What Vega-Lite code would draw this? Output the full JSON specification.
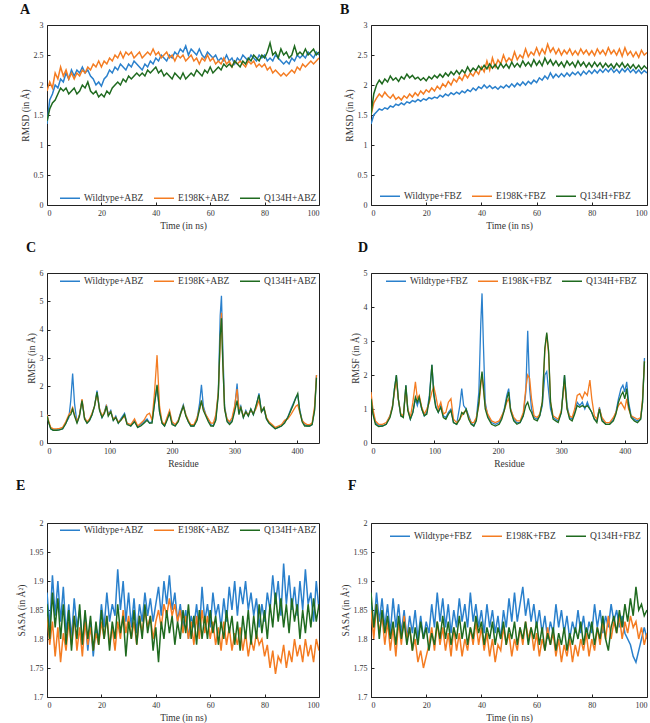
{
"$schema":"https://vega.github.io/schema/vega-lite/v6.json",
"padding":{"left":15,"top":2,"right":5,"bottom":1},
"config":{
"view":{"stroke":"#222","strokeWidth":1},
"axis":{"grid":false,"domain":false,"tickSize":-3,"tickColor":"#222","labelPadding":7,"labelFont":"Liberation Serif","labelFontSize":8,"labelColor":"#333","titleFont":"Liberation Serif","titleFontSize":9.5,"titleFontWeight":"normal","titleColor":"#333","titlePadding":3},
"title":{"font":"Liberation Serif","fontSize":14,"fontWeight":"bold","anchor":"start","frame":"bounds","color":"#111"},
"legend":{"orient":"none","direction":"horizontal","symbolType":"stroke","symbolStrokeWidth":2,"symbolSize":400,"labelFont":"Liberation Serif","labelFontSize":9.5,"labelColor":"#333","columnPadding":7,"labelOffset":3},
"line":{"strokeWidth":1.5}
},
"datasets":{
"a":[{"x":0,"W":1.35,"E":1.9,"Q":1.4},{"x":1,"W":1.75,"E":2.05,"Q":1.6},{"x":2,"W":1.85,"E":1.95,"Q":1.7},{"x":3,"W":2.0,"E":2.2,"Q":1.75},{"x":4,"W":1.95,"E":2.1,"Q":1.85},{"x":5,"W":2.1,"E":2.3,"Q":1.95},{"x":6,"W":2.05,"E":2.15,"Q":1.9},{"x":7,"W":2.2,"E":2.25,"Q":1.95},{"x":8,"W":2.1,"E":2.1,"Q":1.85},{"x":9,"W":2.25,"E":2.2,"Q":1.9},{"x":10,"W":2.15,"E":2.1,"Q":1.95},{"x":11,"W":2.25,"E":2.2,"Q":1.85},{"x":12,"W":2.2,"E":2.15,"Q":1.9},{"x":13,"W":2.3,"E":2.25,"Q":2.0},{"x":14,"W":2.2,"E":2.2,"Q":1.95},{"x":15,"W":2.25,"E":2.3,"Q":2.05},{"x":16,"W":2.15,"E":2.25,"Q":1.9},{"x":17,"W":2.1,"E":2.35,"Q":1.85},{"x":18,"W":2.0,"E":2.3,"Q":1.9},{"x":19,"W":2.05,"E":2.4,"Q":1.8},{"x":20,"W":1.98,"E":2.3,"Q":1.85},{"x":21,"W":2.1,"E":2.4,"Q":1.8},{"x":22,"W":2.15,"E":2.35,"Q":1.9},{"x":23,"W":2.25,"E":2.45,"Q":1.85},{"x":24,"W":2.2,"E":2.4,"Q":1.95},{"x":25,"W":2.3,"E":2.5,"Q":2.0},{"x":26,"W":2.25,"E":2.45,"Q":2.05},{"x":27,"W":2.35,"E":2.55,"Q":2.0},{"x":28,"W":2.3,"E":2.45,"Q":2.1},{"x":29,"W":2.25,"E":2.55,"Q":2.05},{"x":30,"W":2.35,"E":2.5,"Q":2.15},{"x":31,"W":2.3,"E":2.55,"Q":2.1},{"x":32,"W":2.4,"E":2.45,"Q":2.15},{"x":33,"W":2.35,"E":2.5,"Q":2.2},{"x":34,"W":2.3,"E":2.55,"Q":2.15},{"x":35,"W":2.25,"E":2.45,"Q":2.2},{"x":36,"W":2.35,"E":2.5,"Q":2.15},{"x":37,"W":2.3,"E":2.55,"Q":2.25},{"x":38,"W":2.4,"E":2.5,"Q":2.2},{"x":39,"W":2.35,"E":2.6,"Q":2.25},{"x":40,"W":2.45,"E":2.5,"Q":2.3},{"x":41,"W":2.4,"E":2.55,"Q":2.2},{"x":42,"W":2.5,"E":2.45,"Q":2.25},{"x":43,"W":2.45,"E":2.5,"Q":2.15},{"x":44,"W":2.4,"E":2.55,"Q":2.2},{"x":45,"W":2.5,"E":2.45,"Q":2.15},{"x":46,"W":2.45,"E":2.5,"Q":2.1},{"x":47,"W":2.55,"E":2.4,"Q":2.2},{"x":48,"W":2.5,"E":2.5,"Q":2.15},{"x":49,"W":2.6,"E":2.45,"Q":2.1},{"x":50,"W":2.55,"E":2.5,"Q":2.2},{"x":51,"W":2.65,"E":2.4,"Q":2.1},{"x":52,"W":2.5,"E":2.45,"Q":2.15},{"x":53,"W":2.6,"E":2.5,"Q":2.2},{"x":54,"W":2.55,"E":2.4,"Q":2.15},{"x":55,"W":2.5,"E":2.45,"Q":2.25},{"x":56,"W":2.6,"E":2.35,"Q":2.2},{"x":57,"W":2.5,"E":2.45,"Q":2.15},{"x":58,"W":2.45,"E":2.4,"Q":2.25},{"x":59,"W":2.55,"E":2.5,"Q":2.2},{"x":60,"W":2.5,"E":2.4,"Q":2.3},{"x":61,"W":2.45,"E":2.45,"Q":2.2},{"x":62,"W":2.5,"E":2.35,"Q":2.25},{"x":63,"W":2.4,"E":2.4,"Q":2.3},{"x":64,"W":2.45,"E":2.35,"Q":2.25},{"x":65,"W":2.4,"E":2.45,"Q":2.35},{"x":66,"W":2.5,"E":2.35,"Q":2.3},{"x":67,"W":2.4,"E":2.4,"Q":2.35},{"x":68,"W":2.45,"E":2.3,"Q":2.3},{"x":69,"W":2.35,"E":2.4,"Q":2.4},{"x":70,"W":2.45,"E":2.35,"Q":2.35},{"x":71,"W":2.4,"E":2.4,"Q":2.3},{"x":72,"W":2.5,"E":2.35,"Q":2.4},{"x":73,"W":2.45,"E":2.3,"Q":2.35},{"x":74,"W":2.4,"E":2.4,"Q":2.45},{"x":75,"W":2.5,"E":2.35,"Q":2.4},{"x":76,"W":2.45,"E":2.4,"Q":2.5},{"x":77,"W":2.4,"E":2.3,"Q":2.45},{"x":78,"W":2.5,"E":2.35,"Q":2.4},{"x":79,"W":2.45,"E":2.3,"Q":2.5},{"x":80,"W":2.5,"E":2.35,"Q":2.45},{"x":81,"W":2.4,"E":2.25,"Q":2.55},{"x":82,"W":2.45,"E":2.3,"Q":2.7},{"x":83,"W":2.4,"E":2.2,"Q":2.5},{"x":84,"W":2.5,"E":2.25,"Q":2.55},{"x":85,"W":2.45,"E":2.2,"Q":2.45},{"x":86,"W":2.4,"E":2.15,"Q":2.6},{"x":87,"W":2.35,"E":2.2,"Q":2.5},{"x":88,"W":2.4,"E":2.15,"Q":2.55},{"x":89,"W":2.35,"E":2.2,"Q":2.45},{"x":90,"W":2.45,"E":2.25,"Q":2.5},{"x":91,"W":2.4,"E":2.2,"Q":2.65},{"x":92,"W":2.5,"E":2.3,"Q":2.5},{"x":93,"W":2.45,"E":2.25,"Q":2.55},{"x":94,"W":2.5,"E":2.35,"Q":2.5},{"x":95,"W":2.45,"E":2.3,"Q":2.6},{"x":96,"W":2.55,"E":2.35,"Q":2.5},{"x":97,"W":2.5,"E":2.4,"Q":2.55},{"x":98,"W":2.45,"E":2.35,"Q":2.6},{"x":99,"W":2.55,"E":2.4,"Q":2.5},{"x":100,"W":2.5,"E":2.45,"Q":2.55}],
"b":[{"x":0,"W":1.35,"E":1.5,"Q":1.5},{"x":1,"W":1.5,"E":1.7,"Q":1.85},{"x":2,"W":1.55,"E":1.78,"Q":2.0},{"x":3,"W":1.6,"E":1.85,"Q":2.08},{"x":4,"W":1.58,"E":1.8,"Q":2.02},{"x":5,"W":1.62,"E":1.88,"Q":2.1},{"x":6,"W":1.6,"E":1.82,"Q":2.05},{"x":7,"W":1.65,"E":1.78,"Q":2.15},{"x":8,"W":1.63,"E":1.84,"Q":2.08},{"x":9,"W":1.68,"E":1.76,"Q":2.12},{"x":10,"W":1.66,"E":1.8,"Q":2.06},{"x":11,"W":1.7,"E":1.75,"Q":2.14},{"x":12,"W":1.67,"E":1.82,"Q":2.1},{"x":13,"W":1.72,"E":1.78,"Q":2.18},{"x":14,"W":1.7,"E":1.85,"Q":2.12},{"x":15,"W":1.74,"E":1.8,"Q":2.16},{"x":16,"W":1.72,"E":1.87,"Q":2.1},{"x":17,"W":1.76,"E":1.82,"Q":2.13},{"x":18,"W":1.73,"E":1.9,"Q":2.08},{"x":19,"W":1.77,"E":1.85,"Q":2.12},{"x":20,"W":1.75,"E":1.92,"Q":2.07},{"x":21,"W":1.79,"E":1.88,"Q":2.14},{"x":22,"W":1.77,"E":1.95,"Q":2.1},{"x":23,"W":1.8,"E":1.9,"Q":2.16},{"x":24,"W":1.78,"E":1.98,"Q":2.12},{"x":25,"W":1.83,"E":1.93,"Q":2.18},{"x":26,"W":1.8,"E":2.02,"Q":2.13},{"x":27,"W":1.85,"E":1.97,"Q":2.2},{"x":28,"W":1.82,"E":2.06,"Q":2.15},{"x":29,"W":1.87,"E":2.0,"Q":2.22},{"x":30,"W":1.84,"E":2.1,"Q":2.17},{"x":31,"W":1.88,"E":2.05,"Q":2.24},{"x":32,"W":1.85,"E":2.14,"Q":2.18},{"x":33,"W":1.9,"E":2.08,"Q":2.25},{"x":34,"W":1.87,"E":2.18,"Q":2.2},{"x":35,"W":1.92,"E":2.12,"Q":2.3},{"x":36,"W":1.89,"E":2.2,"Q":2.22},{"x":37,"W":1.95,"E":2.15,"Q":2.28},{"x":38,"W":1.91,"E":2.24,"Q":2.24},{"x":39,"W":1.97,"E":2.18,"Q":2.32},{"x":40,"W":1.94,"E":2.3,"Q":2.26},{"x":41,"W":2.0,"E":2.22,"Q":2.33},{"x":42,"W":1.95,"E":2.4,"Q":2.27},{"x":43,"W":1.99,"E":2.25,"Q":2.35},{"x":44,"W":1.94,"E":2.45,"Q":2.28},{"x":45,"W":1.97,"E":2.3,"Q":2.34},{"x":46,"W":1.93,"E":2.42,"Q":2.27},{"x":47,"W":1.98,"E":2.35,"Q":2.36},{"x":48,"W":1.95,"E":2.5,"Q":2.29},{"x":49,"W":2.0,"E":2.38,"Q":2.35},{"x":50,"W":1.96,"E":2.45,"Q":2.28},{"x":51,"W":2.02,"E":2.4,"Q":2.38},{"x":52,"W":1.97,"E":2.55,"Q":2.3},{"x":53,"W":2.03,"E":2.42,"Q":2.36},{"x":54,"W":1.99,"E":2.5,"Q":2.3},{"x":55,"W":2.05,"E":2.45,"Q":2.4},{"x":56,"W":2.0,"E":2.6,"Q":2.32},{"x":57,"W":2.06,"E":2.47,"Q":2.38},{"x":58,"W":2.02,"E":2.55,"Q":2.31},{"x":59,"W":2.08,"E":2.5,"Q":2.42},{"x":60,"W":2.04,"E":2.62,"Q":2.33},{"x":61,"W":2.12,"E":2.5,"Q":2.4},{"x":62,"W":2.08,"E":2.6,"Q":2.32},{"x":63,"W":2.15,"E":2.52,"Q":2.45},{"x":64,"W":2.1,"E":2.68,"Q":2.35},{"x":65,"W":2.2,"E":2.55,"Q":2.42},{"x":66,"W":2.12,"E":2.62,"Q":2.33},{"x":67,"W":2.18,"E":2.52,"Q":2.4},{"x":68,"W":2.13,"E":2.6,"Q":2.32},{"x":69,"W":2.19,"E":2.5,"Q":2.38},{"x":70,"W":2.14,"E":2.58,"Q":2.3},{"x":71,"W":2.2,"E":2.52,"Q":2.4},{"x":72,"W":2.15,"E":2.6,"Q":2.33},{"x":73,"W":2.21,"E":2.5,"Q":2.38},{"x":74,"W":2.17,"E":2.57,"Q":2.3},{"x":75,"W":2.22,"E":2.5,"Q":2.4},{"x":76,"W":2.16,"E":2.6,"Q":2.32},{"x":77,"W":2.23,"E":2.52,"Q":2.38},{"x":78,"W":2.18,"E":2.58,"Q":2.3},{"x":79,"W":2.24,"E":2.5,"Q":2.37},{"x":80,"W":2.19,"E":2.57,"Q":2.3},{"x":81,"W":2.25,"E":2.49,"Q":2.38},{"x":82,"W":2.2,"E":2.6,"Q":2.31},{"x":83,"W":2.26,"E":2.52,"Q":2.37},{"x":84,"W":2.21,"E":2.58,"Q":2.29},{"x":85,"W":2.27,"E":2.5,"Q":2.36},{"x":86,"W":2.22,"E":2.62,"Q":2.3},{"x":87,"W":2.28,"E":2.52,"Q":2.35},{"x":88,"W":2.21,"E":2.58,"Q":2.28},{"x":89,"W":2.26,"E":2.5,"Q":2.36},{"x":90,"W":2.2,"E":2.6,"Q":2.3},{"x":91,"W":2.27,"E":2.48,"Q":2.37},{"x":92,"W":2.22,"E":2.62,"Q":2.29},{"x":93,"W":2.28,"E":2.5,"Q":2.35},{"x":94,"W":2.21,"E":2.56,"Q":2.28},{"x":95,"W":2.26,"E":2.47,"Q":2.34},{"x":96,"W":2.2,"E":2.55,"Q":2.27},{"x":97,"W":2.25,"E":2.46,"Q":2.33},{"x":98,"W":2.19,"E":2.58,"Q":2.26},{"x":99,"W":2.24,"E":2.5,"Q":2.32},{"x":100,"W":2.2,"E":2.54,"Q":2.27}],
"c":[{"x":0,"W":1.0,"E":1.0,"Q":0.95},{"x":3,"W":0.7,"E":0.75,"Q":0.7},{"x":6,"W":0.5,"E":0.55,"Q":0.5},{"x":10,"W":0.45,"E":0.5,"Q":0.45},{"x":15,"W":0.45,"E":0.5,"Q":0.45},{"x":20,"W":0.47,"E":0.52,"Q":0.46},{"x":25,"W":0.5,"E":0.55,"Q":0.5},{"x":30,"W":0.7,"E":0.75,"Q":0.68},{"x":35,"W":0.9,"E":1.0,"Q":0.95},{"x":38,"W":1.5,"E":1.1,"Q":1.0},{"x":41,"W":2.45,"E":1.25,"Q":1.2},{"x":44,"W":1.4,"E":1.0,"Q":0.95},{"x":48,"W":0.7,"E":0.75,"Q":0.7},{"x":52,"W":1.0,"E":1.0,"Q":0.95},{"x":56,"W":1.5,"E":1.55,"Q":1.5},{"x":60,"W":0.9,"E":0.9,"Q":0.85},{"x":64,"W":0.7,"E":0.75,"Q":0.7},{"x":68,"W":0.8,"E":0.85,"Q":0.8},{"x":72,"W":1.0,"E":1.05,"Q":1.0},{"x":76,"W":1.3,"E":1.3,"Q":1.3},{"x":80,"W":1.85,"E":1.75,"Q":1.8},{"x":84,"W":1.2,"E":1.2,"Q":1.15},{"x":88,"W":0.9,"E":0.95,"Q":0.9},{"x":92,"W":1.1,"E":1.1,"Q":1.05},{"x":95,"W":1.35,"E":1.3,"Q":1.3},{"x":98,"W":1.0,"E":1.0,"Q":0.95},{"x":102,"W":1.15,"E":1.1,"Q":1.1},{"x":106,"W":0.8,"E":0.85,"Q":0.8},{"x":110,"W":0.95,"E":0.9,"Q":0.9},{"x":114,"W":0.7,"E":0.75,"Q":0.7},{"x":118,"W":0.85,"E":0.8,"Q":0.8},{"x":124,"W":1.05,"E":0.95,"Q":1.0},{"x":128,"W":0.7,"E":0.7,"Q":0.65},{"x":134,"W":0.6,"E":0.65,"Q":0.6},{"x":140,"W":0.8,"E":0.85,"Q":0.75},{"x":145,"W":0.55,"E":0.6,"Q":0.55},{"x":150,"W":0.65,"E":0.7,"Q":0.6},{"x":155,"W":0.75,"E":0.8,"Q":0.7},{"x":160,"W":0.85,"E":1.0,"Q":0.8},{"x":164,"W":0.7,"E":1.05,"Q":0.7},{"x":168,"W":0.75,"E":0.8,"Q":0.7},{"x":172,"W":1.4,"E":1.8,"Q":1.4},{"x":176,"W":2.0,"E":3.1,"Q":2.05},{"x":180,"W":1.1,"E":1.3,"Q":1.1},{"x":184,"W":0.7,"E":0.75,"Q":0.7},{"x":188,"W":0.6,"E":0.65,"Q":0.6},{"x":192,"W":0.85,"E":0.9,"Q":0.8},{"x":196,"W":1.1,"E":1.15,"Q":1.05},{"x":200,"W":0.7,"E":0.75,"Q":0.65},{"x":205,"W":0.6,"E":0.65,"Q":0.6},{"x":210,"W":0.8,"E":0.8,"Q":0.75},{"x":214,"W":1.1,"E":1.05,"Q":1.05},{"x":218,"W":1.35,"E":1.3,"Q":1.3},{"x":222,"W":1.0,"E":1.0,"Q":0.95},{"x":226,"W":0.75,"E":0.8,"Q":0.75},{"x":230,"W":0.6,"E":0.65,"Q":0.6},{"x":235,"W":0.6,"E":0.65,"Q":0.6},{"x":240,"W":0.85,"E":0.9,"Q":0.8},{"x":244,"W":1.4,"E":1.2,"Q":1.2},{"x":247,"W":2.05,"E":1.45,"Q":1.5},{"x":250,"W":1.3,"E":1.2,"Q":1.15},{"x":254,"W":1.0,"E":1.0,"Q":0.95},{"x":258,"W":0.8,"E":0.85,"Q":0.75},{"x":262,"W":0.65,"E":0.7,"Q":0.6},{"x":266,"W":0.6,"E":0.7,"Q":0.6},{"x":270,"W":0.85,"E":1.0,"Q":0.8},{"x":274,"W":1.8,"E":1.8,"Q":1.7},{"x":277,"W":4.5,"E":3.5,"Q":3.8},{"x":279,"W":5.2,"E":4.6,"Q":4.4},{"x":281,"W":3.5,"E":3.0,"Q":2.9},{"x":284,"W":1.3,"E":1.2,"Q":1.2},{"x":288,"W":0.8,"E":0.85,"Q":0.75},{"x":292,"W":0.7,"E":0.75,"Q":0.65},{"x":296,"W":0.8,"E":0.9,"Q":0.75},{"x":300,"W":1.2,"E":1.3,"Q":1.1},{"x":304,"W":2.1,"E":1.9,"Q":1.5},{"x":307,"W":1.1,"E":1.2,"Q":1.0},{"x":310,"W":1.3,"E":1.25,"Q":1.25},{"x":314,"W":0.9,"E":0.95,"Q":0.9},{"x":318,"W":1.15,"E":1.1,"Q":1.1},{"x":322,"W":0.95,"E":1.0,"Q":0.95},{"x":326,"W":1.2,"E":1.15,"Q":1.2},{"x":330,"W":1.0,"E":1.05,"Q":1.0},{"x":334,"W":1.25,"E":1.2,"Q":1.3},{"x":339,"W":1.75,"E":1.5,"Q":1.7},{"x":343,"W":1.1,"E":1.1,"Q":1.1},{"x":347,"W":1.2,"E":1.25,"Q":1.25},{"x":351,"W":0.85,"E":0.9,"Q":0.85},{"x":355,"W":0.7,"E":0.75,"Q":0.7},{"x":360,"W":0.6,"E":0.65,"Q":0.6},{"x":365,"W":0.5,"E":0.55,"Q":0.5},{"x":370,"W":0.55,"E":0.6,"Q":0.55},{"x":375,"W":0.6,"E":0.65,"Q":0.6},{"x":380,"W":0.75,"E":0.8,"Q":0.7},{"x":385,"W":0.9,"E":0.85,"Q":0.9},{"x":390,"W":1.2,"E":1.0,"Q":1.15},{"x":394,"W":1.4,"E":1.15,"Q":1.35},{"x":398,"W":1.6,"E":1.3,"Q":1.6},{"x":401,"W":1.7,"E":1.35,"Q":1.75},{"x":404,"W":1.2,"E":1.1,"Q":1.15},{"x":408,"W":0.8,"E":0.8,"Q":0.75},{"x":412,"W":0.65,"E":0.7,"Q":0.6},{"x":416,"W":0.6,"E":0.65,"Q":0.6},{"x":420,"W":0.6,"E":0.65,"Q":0.6},{"x":424,"W":0.65,"E":0.7,"Q":0.65},{"x":428,"W":1.2,"E":1.3,"Q":1.15},{"x":431,"W":2.4,"E":2.4,"Q":2.3}],
"d":[{"x":0,"W":1.4,"E":1.5,"Q":1.3},{"x":3,"W":0.9,"E":1.0,"Q":0.85},{"x":7,"W":0.6,"E":0.65,"Q":0.55},{"x":12,"W":0.5,"E":0.55,"Q":0.48},{"x":18,"W":0.5,"E":0.55,"Q":0.5},{"x":24,"W":0.55,"E":0.6,"Q":0.55},{"x":30,"W":0.8,"E":0.8,"Q":0.75},{"x":34,"W":1.1,"E":1.1,"Q":1.05},{"x":37,"W":1.6,"E":1.5,"Q":1.6},{"x":40,"W":2.0,"E":1.85,"Q":2.0},{"x":43,"W":1.3,"E":1.3,"Q":1.3},{"x":47,"W":0.8,"E":0.85,"Q":0.8},{"x":51,"W":0.8,"E":0.8,"Q":0.75},{"x":55,"W":1.7,"E":1.6,"Q":1.7},{"x":58,"W":1.0,"E":1.0,"Q":0.95},{"x":62,"W":0.7,"E":0.75,"Q":0.7},{"x":66,"W":0.9,"E":1.2,"Q":0.9},{"x":70,"W":1.3,"E":1.8,"Q":1.35},{"x":73,"W":1.1,"E":1.3,"Q":1.2},{"x":76,"W":1.3,"E":1.4,"Q":1.35},{"x":80,"W":1.0,"E":1.05,"Q":1.0},{"x":84,"W":0.8,"E":0.85,"Q":0.8},{"x":88,"W":0.9,"E":1.0,"Q":0.85},{"x":92,"W":1.4,"E":1.2,"Q":1.3},{"x":96,"W":2.3,"E":1.5,"Q":2.3},{"x":99,"W":1.5,"E":1.65,"Q":1.4},{"x":102,"W":1.1,"E":1.4,"Q":1.05},{"x":106,"W":0.9,"E":1.0,"Q":0.9},{"x":110,"W":1.1,"E":1.2,"Q":1.05},{"x":114,"W":0.8,"E":0.85,"Q":0.75},{"x":118,"W":0.75,"E":0.9,"Q":0.7},{"x":122,"W":0.9,"E":1.2,"Q":0.85},{"x":126,"W":1.0,"E":1.3,"Q":0.95},{"x":130,"W":0.6,"E":0.7,"Q":0.6},{"x":135,"W":0.55,"E":0.6,"Q":0.55},{"x":140,"W":1.1,"E":0.7,"Q":0.7},{"x":143,"W":1.6,"E":0.8,"Q":0.9},{"x":146,"W":1.1,"E":0.9,"Q":0.85},{"x":150,"W":1.0,"E":0.95,"Q":1.0},{"x":154,"W":0.8,"E":0.75,"Q":0.7},{"x":158,"W":0.6,"E":0.6,"Q":0.55},{"x":162,"W":0.5,"E":0.6,"Q":0.5},{"x":166,"W":0.7,"E":0.75,"Q":0.65},{"x":170,"W":1.5,"E":1.1,"Q":1.2},{"x":173,"W":3.5,"E":1.7,"Q":1.8},{"x":175,"W":4.4,"E":2.0,"Q":2.1},{"x":177,"W":3.0,"E":1.6,"Q":1.7},{"x":180,"W":1.2,"E":1.1,"Q":1.0},{"x":184,"W":0.8,"E":0.85,"Q":0.75},{"x":190,"W":0.6,"E":0.65,"Q":0.55},{"x":196,"W":0.55,"E":0.6,"Q":0.5},{"x":202,"W":0.6,"E":0.65,"Q":0.55},{"x":206,"W":0.75,"E":0.8,"Q":0.7},{"x":210,"W":1.0,"E":0.95,"Q":0.95},{"x":214,"W":1.4,"E":1.2,"Q":1.3},{"x":217,"W":1.6,"E":1.3,"Q":1.5},{"x":220,"W":1.0,"E":1.0,"Q":0.95},{"x":225,"W":0.7,"E":0.75,"Q":0.65},{"x":230,"W":0.6,"E":0.65,"Q":0.55},{"x":235,"W":0.6,"E":0.65,"Q":0.6},{"x":240,"W":0.8,"E":0.9,"Q":0.8},{"x":244,"W":1.5,"E":1.6,"Q":1.1},{"x":247,"W":3.3,"E":2.0,"Q":1.2},{"x":250,"W":1.6,"E":1.9,"Q":1.0},{"x":253,"W":1.0,"E":1.3,"Q":0.9},{"x":257,"W":0.75,"E":0.8,"Q":0.7},{"x":262,"W":0.7,"E":0.75,"Q":0.65},{"x":266,"W":0.8,"E":0.85,"Q":0.8},{"x":270,"W":1.1,"E":1.2,"Q":1.2},{"x":274,"W":2.0,"E":2.7,"Q":2.8},{"x":277,"W":2.1,"E":3.2,"Q":3.25},{"x":280,"W":1.5,"E":2.6,"Q":2.7},{"x":283,"W":1.0,"E":1.2,"Q":1.2},{"x":287,"W":0.75,"E":0.8,"Q":0.7},{"x":291,"W":0.7,"E":0.75,"Q":0.65},{"x":295,"W":0.65,"E":0.7,"Q":0.6},{"x":300,"W":0.9,"E":0.95,"Q":0.9},{"x":305,"W":2.0,"E":1.8,"Q":2.0},{"x":309,"W":1.1,"E":1.0,"Q":1.0},{"x":313,"W":0.75,"E":0.8,"Q":0.7},{"x":317,"W":0.7,"E":0.75,"Q":0.65},{"x":321,"W":0.9,"E":1.0,"Q":0.85},{"x":325,"W":1.2,"E":1.4,"Q":1.1},{"x":329,"W":1.1,"E":1.45,"Q":1.05},{"x":333,"W":1.2,"E":1.3,"Q":1.1},{"x":337,"W":1.0,"E":1.5,"Q":1.05},{"x":341,"W":1.2,"E":1.4,"Q":1.1},{"x":345,"W":1.0,"E":1.85,"Q":1.0},{"x":348,"W":0.9,"E":1.3,"Q":0.9},{"x":352,"W":0.7,"E":0.8,"Q":0.7},{"x":356,"W":0.65,"E":0.7,"Q":0.6},{"x":360,"W":1.05,"E":1.0,"Q":1.0},{"x":364,"W":0.7,"E":0.75,"Q":0.65},{"x":370,"W":0.55,"E":0.6,"Q":0.55},{"x":376,"W":0.55,"E":0.6,"Q":0.55},{"x":382,"W":0.7,"E":0.75,"Q":0.65},{"x":386,"W":0.9,"E":0.9,"Q":0.85},{"x":390,"W":1.3,"E":1.1,"Q":1.2},{"x":394,"W":1.6,"E":1.2,"Q":1.4},{"x":397,"W":1.7,"E":1.1,"Q":1.5},{"x":400,"W":1.5,"E":1.0,"Q":1.3},{"x":403,"W":1.8,"E":1.3,"Q":1.6},{"x":406,"W":1.2,"E":1.0,"Q":1.1},{"x":410,"W":0.8,"E":0.8,"Q":0.75},{"x":415,"W":0.7,"E":0.75,"Q":0.65},{"x":420,"W":0.65,"E":0.7,"Q":0.6},{"x":425,"W":0.7,"E":0.75,"Q":0.7},{"x":428,"W":1.2,"E":1.3,"Q":1.2},{"x":431,"W":2.5,"E":2.4,"Q":2.4}],
"e":[{"x":0,"W":1.88,"E":1.84,"Q":1.86},{"x":1,"W":1.82,"E":1.79,"Q":1.8},{"x":2,"W":1.91,"E":1.83,"Q":1.88},{"x":3,"W":1.84,"E":1.77,"Q":1.82},{"x":4,"W":1.9,"E":1.82,"Q":1.87},{"x":5,"W":1.83,"E":1.76,"Q":1.8},{"x":6,"W":1.89,"E":1.81,"Q":1.86},{"x":7,"W":1.81,"E":1.78,"Q":1.79},{"x":8,"W":1.86,"E":1.83,"Q":1.85},{"x":9,"W":1.8,"E":1.79,"Q":1.78},{"x":10,"W":1.87,"E":1.84,"Q":1.84},{"x":11,"W":1.82,"E":1.78,"Q":1.8},{"x":12,"W":1.85,"E":1.82,"Q":1.86},{"x":13,"W":1.79,"E":1.77,"Q":1.79},{"x":14,"W":1.84,"E":1.83,"Q":1.85},{"x":15,"W":1.78,"E":1.79,"Q":1.8},{"x":16,"W":1.83,"E":1.82,"Q":1.84},{"x":17,"W":1.77,"E":1.78,"Q":1.78},{"x":18,"W":1.82,"E":1.81,"Q":1.83},{"x":19,"W":1.8,"E":1.79,"Q":1.79},{"x":20,"W":1.86,"E":1.83,"Q":1.85},{"x":21,"W":1.82,"E":1.8,"Q":1.8},{"x":22,"W":1.88,"E":1.84,"Q":1.84},{"x":23,"W":1.83,"E":1.79,"Q":1.78},{"x":24,"W":1.86,"E":1.82,"Q":1.83},{"x":25,"W":1.84,"E":1.78,"Q":1.8},{"x":26,"W":1.92,"E":1.83,"Q":1.86},{"x":27,"W":1.85,"E":1.8,"Q":1.81},{"x":28,"W":1.9,"E":1.85,"Q":1.84},{"x":29,"W":1.83,"E":1.81,"Q":1.77},{"x":30,"W":1.88,"E":1.84,"Q":1.83},{"x":31,"W":1.82,"E":1.8,"Q":1.8},{"x":32,"W":1.87,"E":1.83,"Q":1.85},{"x":33,"W":1.81,"E":1.79,"Q":1.79},{"x":34,"W":1.86,"E":1.84,"Q":1.84},{"x":35,"W":1.83,"E":1.81,"Q":1.8},{"x":36,"W":1.88,"E":1.85,"Q":1.86},{"x":37,"W":1.84,"E":1.82,"Q":1.81},{"x":38,"W":1.87,"E":1.84,"Q":1.84},{"x":39,"W":1.83,"E":1.8,"Q":1.78},{"x":40,"W":1.86,"E":1.83,"Q":1.82},{"x":41,"W":1.89,"E":1.85,"Q":1.76},{"x":42,"W":1.84,"E":1.82,"Q":1.83},{"x":43,"W":1.9,"E":1.86,"Q":1.8},{"x":44,"W":1.86,"E":1.84,"Q":1.85},{"x":45,"W":1.91,"E":1.87,"Q":1.81},{"x":46,"W":1.85,"E":1.84,"Q":1.84},{"x":47,"W":1.88,"E":1.86,"Q":1.79},{"x":48,"W":1.83,"E":1.83,"Q":1.83},{"x":49,"W":1.86,"E":1.85,"Q":1.8},{"x":50,"W":1.82,"E":1.81,"Q":1.85},{"x":51,"W":1.85,"E":1.84,"Q":1.81},{"x":52,"W":1.8,"E":1.8,"Q":1.86},{"x":53,"W":1.84,"E":1.83,"Q":1.8},{"x":54,"W":1.82,"E":1.79,"Q":1.84},{"x":55,"W":1.86,"E":1.84,"Q":1.79},{"x":56,"W":1.81,"E":1.8,"Q":1.85},{"x":57,"W":1.89,"E":1.85,"Q":1.8},{"x":58,"W":1.83,"E":1.81,"Q":1.84},{"x":59,"W":1.86,"E":1.84,"Q":1.8},{"x":60,"W":1.82,"E":1.8,"Q":1.85},{"x":61,"W":1.88,"E":1.83,"Q":1.81},{"x":62,"W":1.84,"E":1.79,"Q":1.84},{"x":63,"W":1.86,"E":1.82,"Q":1.79},{"x":64,"W":1.82,"E":1.78,"Q":1.83},{"x":65,"W":1.87,"E":1.83,"Q":1.8},{"x":66,"W":1.83,"E":1.79,"Q":1.85},{"x":67,"W":1.89,"E":1.82,"Q":1.81},{"x":68,"W":1.85,"E":1.78,"Q":1.84},{"x":69,"W":1.9,"E":1.81,"Q":1.79},{"x":70,"W":1.84,"E":1.79,"Q":1.83},{"x":71,"W":1.89,"E":1.82,"Q":1.78},{"x":72,"W":1.86,"E":1.78,"Q":1.84},{"x":73,"W":1.9,"E":1.81,"Q":1.8},{"x":74,"W":1.85,"E":1.77,"Q":1.85},{"x":75,"W":1.88,"E":1.8,"Q":1.79},{"x":76,"W":1.84,"E":1.78,"Q":1.84},{"x":77,"W":1.87,"E":1.81,"Q":1.8},{"x":78,"W":1.82,"E":1.79,"Q":1.86},{"x":79,"W":1.86,"E":1.8,"Q":1.81},{"x":80,"W":1.83,"E":1.77,"Q":1.85},{"x":81,"W":1.88,"E":1.79,"Q":1.8},{"x":82,"W":1.85,"E":1.75,"Q":1.86},{"x":83,"W":1.91,"E":1.78,"Q":1.82},{"x":84,"W":1.86,"E":1.74,"Q":1.88},{"x":85,"W":1.9,"E":1.77,"Q":1.83},{"x":86,"W":1.84,"E":1.76,"Q":1.87},{"x":87,"W":1.93,"E":1.79,"Q":1.82},{"x":88,"W":1.86,"E":1.75,"Q":1.86},{"x":89,"W":1.91,"E":1.78,"Q":1.81},{"x":90,"W":1.85,"E":1.76,"Q":1.87},{"x":91,"W":1.89,"E":1.8,"Q":1.83},{"x":92,"W":1.84,"E":1.77,"Q":1.86},{"x":93,"W":1.9,"E":1.79,"Q":1.8},{"x":94,"W":1.85,"E":1.76,"Q":1.85},{"x":95,"W":1.92,"E":1.8,"Q":1.81},{"x":96,"W":1.86,"E":1.77,"Q":1.86},{"x":97,"W":1.88,"E":1.79,"Q":1.82},{"x":98,"W":1.83,"E":1.76,"Q":1.87},{"x":99,"W":1.9,"E":1.8,"Q":1.83},{"x":100,"W":1.85,"E":1.78,"Q":1.86}],
"f":[{"x":0,"W":1.86,"E":1.85,"Q":1.88},{"x":1,"W":1.82,"E":1.8,"Q":1.82},{"x":2,"W":1.88,"E":1.86,"Q":1.86},{"x":3,"W":1.83,"E":1.81,"Q":1.8},{"x":4,"W":1.87,"E":1.84,"Q":1.85},{"x":5,"W":1.82,"E":1.79,"Q":1.81},{"x":6,"W":1.86,"E":1.83,"Q":1.84},{"x":7,"W":1.81,"E":1.78,"Q":1.8},{"x":8,"W":1.87,"E":1.82,"Q":1.83},{"x":9,"W":1.82,"E":1.77,"Q":1.79},{"x":10,"W":1.86,"E":1.83,"Q":1.84},{"x":11,"W":1.81,"E":1.79,"Q":1.8},{"x":12,"W":1.85,"E":1.84,"Q":1.83},{"x":13,"W":1.8,"E":1.8,"Q":1.79},{"x":14,"W":1.84,"E":1.82,"Q":1.82},{"x":15,"W":1.81,"E":1.78,"Q":1.78},{"x":16,"W":1.85,"E":1.8,"Q":1.82},{"x":17,"W":1.8,"E":1.76,"Q":1.79},{"x":18,"W":1.84,"E":1.78,"Q":1.83},{"x":19,"W":1.8,"E":1.75,"Q":1.8},{"x":20,"W":1.83,"E":1.77,"Q":1.82},{"x":21,"W":1.81,"E":1.79,"Q":1.78},{"x":22,"W":1.86,"E":1.82,"Q":1.81},{"x":23,"W":1.82,"E":1.78,"Q":1.79},{"x":24,"W":1.88,"E":1.83,"Q":1.83},{"x":25,"W":1.83,"E":1.79,"Q":1.8},{"x":26,"W":1.87,"E":1.82,"Q":1.84},{"x":27,"W":1.82,"E":1.78,"Q":1.8},{"x":28,"W":1.86,"E":1.81,"Q":1.83},{"x":29,"W":1.81,"E":1.77,"Q":1.79},{"x":30,"W":1.85,"E":1.82,"Q":1.82},{"x":31,"W":1.82,"E":1.78,"Q":1.8},{"x":32,"W":1.87,"E":1.81,"Q":1.84},{"x":33,"W":1.83,"E":1.77,"Q":1.8},{"x":34,"W":1.86,"E":1.8,"Q":1.83},{"x":35,"W":1.82,"E":1.78,"Q":1.79},{"x":36,"W":1.88,"E":1.82,"Q":1.82},{"x":37,"W":1.83,"E":1.79,"Q":1.8},{"x":38,"W":1.86,"E":1.83,"Q":1.84},{"x":39,"W":1.82,"E":1.79,"Q":1.81},{"x":40,"W":1.85,"E":1.82,"Q":1.83},{"x":41,"W":1.81,"E":1.78,"Q":1.79},{"x":42,"W":1.86,"E":1.81,"Q":1.82},{"x":43,"W":1.82,"E":1.77,"Q":1.8},{"x":44,"W":1.85,"E":1.8,"Q":1.83},{"x":45,"W":1.81,"E":1.76,"Q":1.79},{"x":46,"W":1.84,"E":1.79,"Q":1.82},{"x":47,"W":1.8,"E":1.78,"Q":1.8},{"x":48,"W":1.85,"E":1.82,"Q":1.83},{"x":49,"W":1.82,"E":1.79,"Q":1.79},{"x":50,"W":1.87,"E":1.81,"Q":1.82},{"x":51,"W":1.83,"E":1.77,"Q":1.8},{"x":52,"W":1.88,"E":1.8,"Q":1.83},{"x":53,"W":1.83,"E":1.78,"Q":1.79},{"x":54,"W":1.86,"E":1.82,"Q":1.82},{"x":55,"W":1.89,"E":1.79,"Q":1.8},{"x":56,"W":1.84,"E":1.83,"Q":1.83},{"x":57,"W":1.87,"E":1.8,"Q":1.79},{"x":58,"W":1.83,"E":1.82,"Q":1.82},{"x":59,"W":1.86,"E":1.78,"Q":1.8},{"x":60,"W":1.82,"E":1.81,"Q":1.83},{"x":61,"W":1.85,"E":1.77,"Q":1.79},{"x":62,"W":1.81,"E":1.8,"Q":1.82},{"x":63,"W":1.84,"E":1.78,"Q":1.78},{"x":64,"W":1.8,"E":1.82,"Q":1.81},{"x":65,"W":1.83,"E":1.79,"Q":1.79},{"x":66,"W":1.81,"E":1.81,"Q":1.82},{"x":67,"W":1.86,"E":1.77,"Q":1.78},{"x":68,"W":1.82,"E":1.8,"Q":1.81},{"x":69,"W":1.85,"E":1.76,"Q":1.79},{"x":70,"W":1.81,"E":1.79,"Q":1.82},{"x":71,"W":1.84,"E":1.77,"Q":1.78},{"x":72,"W":1.8,"E":1.8,"Q":1.81},{"x":73,"W":1.83,"E":1.76,"Q":1.79},{"x":74,"W":1.81,"E":1.79,"Q":1.82},{"x":75,"W":1.85,"E":1.77,"Q":1.8},{"x":76,"W":1.81,"E":1.8,"Q":1.83},{"x":77,"W":1.84,"E":1.78,"Q":1.79},{"x":78,"W":1.8,"E":1.81,"Q":1.82},{"x":79,"W":1.83,"E":1.77,"Q":1.8},{"x":80,"W":1.81,"E":1.8,"Q":1.83},{"x":81,"W":1.86,"E":1.78,"Q":1.79},{"x":82,"W":1.82,"E":1.82,"Q":1.82},{"x":83,"W":1.85,"E":1.79,"Q":1.8},{"x":84,"W":1.81,"E":1.83,"Q":1.84},{"x":85,"W":1.84,"E":1.8,"Q":1.8},{"x":86,"W":1.82,"E":1.84,"Q":1.78},{"x":87,"W":1.86,"E":1.8,"Q":1.82},{"x":88,"W":1.83,"E":1.83,"Q":1.84},{"x":89,"W":1.85,"E":1.81,"Q":1.81},{"x":90,"W":1.82,"E":1.84,"Q":1.85},{"x":91,"W":1.84,"E":1.8,"Q":1.82},{"x":92,"W":1.81,"E":1.83,"Q":1.86},{"x":93,"W":1.8,"E":1.81,"Q":1.83},{"x":94,"W":1.79,"E":1.84,"Q":1.87},{"x":95,"W":1.77,"E":1.82,"Q":1.84},{"x":96,"W":1.76,"E":1.83,"Q":1.89},{"x":97,"W":1.78,"E":1.8,"Q":1.85},{"x":98,"W":1.8,"E":1.82,"Q":1.86},{"x":99,"W":1.82,"E":1.79,"Q":1.84},{"x":100,"W":1.8,"E":1.81,"Q":1.85}]
},
"columns":2,
"spacing":{"row":10,"column":19},
"resolve":{"scale":{"color":"independent"},"legend":{"color":"independent"}},
"concat":[
{"width":272,"height":180,"title":{"text":"A","offset":4,"dx":0},"data":{"name":"a"},"transform":[{"fold":["W","E","Q"],"as":["s","v"]}],"mark":{"type":"line","clip":true},
"encoding":{"x":{"field":"x","type":"quantitative","scale":{"domain":[0,100],"nice":false},"axis":{"title":"Time (in ns)","values":[0,20,40,60,80,100]}},
"y":{"field":"v","type":"quantitative","scale":{"domain":[0,3],"nice":false,"zero":false},"axis":{"title":"RMSD (in Å)","values":[0,0.5,1,1.5,2,2.5,3],"format":"~g"}},
"color":{"field":"s","type":"nominal","sort":null,"scale":{"domain":["W","E","Q"],"range":["#2a80cc","#f47c22","#1f6a1f"]},"legend":{"title":null,"legendX":12,"legendY":162,"labelExpr":"datum.label=='W'?'Wildtype+ABZ':datum.label=='E'?'E198K+ABZ':'Q134H+ABZ'"}}}},
{"width":276,"height":180,"title":{"text":"B","offset":4,"dx":-4},"data":{"name":"b"},"transform":[{"fold":["W","E","Q"],"as":["s","v"]}],"mark":{"type":"line","clip":true},
"encoding":{"x":{"field":"x","type":"quantitative","scale":{"domain":[0,100],"nice":false},"axis":{"title":"Time (in ns)","values":[0,20,40,60,80,100]}},
"y":{"field":"v","type":"quantitative","scale":{"domain":[0,3],"nice":false,"zero":false},"axis":{"title":"RMSD (in Å)","values":[0,0.5,1,1.5,2,2.5,3],"format":"~g"}},
"color":{"field":"s","type":"nominal","sort":null,"scale":{"domain":["W","E","Q"],"range":["#2a80cc","#f47c22","#1f6a1f"]},"legend":{"title":null,"legendX":8,"legendY":160,"labelExpr":"datum.label=='W'?'Wildtype+FBZ':datum.label=='E'?'E198K+FBZ':'Q134H+FBZ'"}}}},
{"width":272,"height":170,"title":{"text":"C","offset":14,"dx":0},"data":{"name":"c"},"transform":[{"fold":["W","E","Q"],"as":["s","v"]}],"mark":{"type":"line","clip":true,"strokeWidth":1.3},
"encoding":{"x":{"field":"x","type":"quantitative","scale":{"domain":[0,435],"nice":false},"axis":{"title":"Residue","values":[0,100,200,300,400]}},
"y":{"field":"v","type":"quantitative","scale":{"domain":[0,6],"nice":false},"axis":{"title":"RMSF (in Å)","values":[0,1,2,3,4,5,6]}},
"color":{"field":"s","type":"nominal","sort":null,"scale":{"domain":["W","E","Q"],"range":["#2a80cc","#f47c22","#1f6a1f"]},"legend":{"title":null,"legendX":12,"legendY":-3,"labelExpr":"datum.label=='W'?'Wildtype+ABZ':datum.label=='E'?'E198K+ABZ':'Q134H+ABZ'"}}}},
{"width":276,"height":170,"title":{"text":"D","offset":14,"dx":8},"data":{"name":"d"},"transform":[{"fold":["W","E","Q"],"as":["s","v"]}],"mark":{"type":"line","clip":true,"strokeWidth":1.3},
"encoding":{"x":{"field":"x","type":"quantitative","scale":{"domain":[0,435],"nice":false},"axis":{"title":"Residue","values":[0,100,200,300,400]}},
"y":{"field":"v","type":"quantitative","scale":{"domain":[0,5],"nice":false},"axis":{"title":"RMSF (in Å)","values":[0,1,2,3,4,5]}},
"color":{"field":"s","type":"nominal","sort":null,"scale":{"domain":["W","E","Q"],"range":["#2a80cc","#f47c22","#1f6a1f"]},"legend":{"title":null,"legendX":14,"legendY":-3,"labelExpr":"datum.label=='W'?'Wildtype+FBZ':datum.label=='E'?'E198K+FBZ':'Q134H+FBZ'"}}}},
{"width":272,"height":174,"title":{"text":"E","offset":26,"dx":0},"data":{"name":"e"},"transform":[{"fold":["W","E","Q"],"as":["s","v"]}],"mark":{"type":"line","clip":true},
"encoding":{"x":{"field":"x","type":"quantitative","scale":{"domain":[0,100],"nice":false},"axis":{"title":"Time (in ns)","values":[0,20,40,60,80,100]}},
"y":{"field":"v","type":"quantitative","scale":{"domain":[1.7,2],"nice":false,"zero":false},"axis":{"title":"SASA (in Å²)","values":[1.7,1.75,1.8,1.85,1.9,1.95,2],"format":"~g"}},
"color":{"field":"s","type":"nominal","sort":null,"scale":{"domain":["W","E","Q"],"range":["#2a80cc","#f47c22","#1f6a1f"]},"legend":{"title":null,"legendX":12,"legendY":-4,"labelExpr":"datum.label=='W'?'Wildtype+ABZ':datum.label=='E'?'E198K+ABZ':'Q134H+ABZ'"}}}},
{"width":276,"height":174,"title":{"text":"F","offset":26,"dx":8},"data":{"name":"f"},"transform":[{"fold":["W","E","Q"],"as":["s","v"]}],"mark":{"type":"line","clip":true},
"encoding":{"x":{"field":"x","type":"quantitative","scale":{"domain":[0,100],"nice":false},"axis":{"title":"Time (in ns)","values":[0,20,40,60,80,100]}},
"y":{"field":"v","type":"quantitative","scale":{"domain":[1.7,2],"nice":false,"zero":false},"axis":{"title":"SASA (in Å²)","values":[1.7,1.75,1.8,1.85,1.9,1.95,2],"format":"~g"}},
"color":{"field":"s","type":"nominal","sort":null,"scale":{"domain":["W","E","Q"],"range":["#2a80cc","#f47c22","#1f6a1f"]},"legend":{"title":null,"legendX":18,"legendY":2,"labelExpr":"datum.label=='W'?'Wildtype+FBZ':datum.label=='E'?'E198K+FBZ':'Q134H+FBZ'"}}}}
]
}
